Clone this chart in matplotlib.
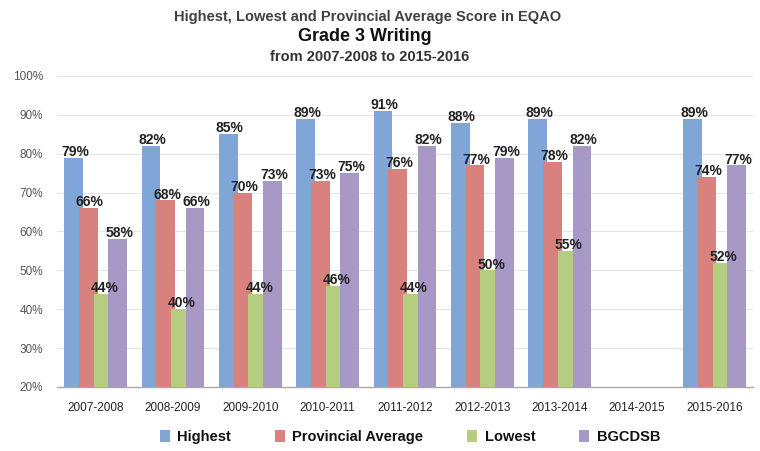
import matplotlib
matplotlib.use("Agg")
import matplotlib.pyplot as plt
import numpy as np

plt.rcParams['font.family'] = ['Liberation Sans', 'DejaVu Sans']

categories = ["2007-2008", "2008-2009", "2009-2010", "2010-2011", "2011-2012",
              "2012-2013", "2013-2014", "2014-2015", "2015-2016"]
highest = [79, 82, 85, 89, 91, 88, 89, None, 89]
provincial = [66, 68, 70, 73, 76, 77, 78, None, 74]
lowest = [44, 40, 44, 46, 44, 50, 55, None, 52]
bgcdsb = [58, 66, 73, 75, 82, 79, 82, None, 77]
series_names = ["Highest", "Provincial Average", "Lowest", "BGCDSB"]
colors = ["#7FA6D6", "#D9817F", "#B4CD7E", "#A898C6"]
yticks = [20, 30, 40, 50, 60, 70, 80, 90, 100]

fig = plt.figure(figsize=(7.6, 4.51), dpi=100)
ax = fig.add_axes([0.075, 0.142, 0.916, 0.6895])

x = np.arange(len(categories))
step = 0.19
width = 0.24
offsets = [-1.5 * step, -0.5 * step, 0.5 * step, 1.5 * step]
all_series = [highest, provincial, lowest, bgcdsb]

for k, (vals, col, name) in enumerate(zip(all_series, colors, series_names)):
    xs = [xi + offsets[k] for xi, v in zip(x, vals) if v is not None]
    vs = [v for v in vals if v is not None]
    ax.bar(xs, [v - 20 for v in vs], bottom=20, width=width, color=col,
           label=name, zorder=2 + k, edgecolor='none')
    for xi, v in zip(xs, vs):
        ax.text(xi + 0.02, v - 0.3, f"{v}%", ha='center', va='bottom',
                fontsize=10, fontweight='bold', color='#222222', zorder=10)

ax.set_ylim(20, 100)
ax.set_xlim(-0.5, len(categories) - 0.5)
ax.set_yticks(yticks)
ax.set_yticklabels([f"{t}%" for t in yticks], fontsize=8.5, color='#555555')
ax.set_xticks(x)
ax.set_xticklabels(categories, fontsize=8.5, color='#222222')
ax.tick_params(axis='both', length=0)
ax.tick_params(axis='y', pad=10)
ax.tick_params(axis='x', pad=11)
ax.grid(axis='y', color='#E6E6E6', linewidth=0.8, zorder=0)
ax.set_axisbelow(True)
for s in ['top', 'right', 'left']:
    ax.spines[s].set_visible(False)
ax.spines['bottom'].set_color('#AAAAAA')
ax.spines['bottom'].set_linewidth(1.0)

fig.text(0.484, 0.962, "Highest, Lowest and Provincial Average Score in EQAO",
         ha='center', va='center', fontsize=10.5, fontweight='bold', color='#404040')
fig.text(0.480, 0.918, "Grade 3 Writing", ha='center', va='center',
         fontsize=13, fontweight='bold', color='#111111')
fig.text(0.487, 0.873, "from 2007-2008 to 2015-2016", ha='center', va='center',
         fontsize=10.5, fontweight='bold', color='#333333')

leg = ax.legend(loc='center', bbox_to_anchor=(0.507, -0.16),
                ncol=4, frameon=False, fontsize=10.5, handlelength=0.7,
                handleheight=0.9, columnspacing=3.0, handletextpad=0.5)
for t in leg.get_texts():
    t.set_fontweight('bold')
    t.set_color('#111111')

fig.savefig("out.png", dpi=100)
